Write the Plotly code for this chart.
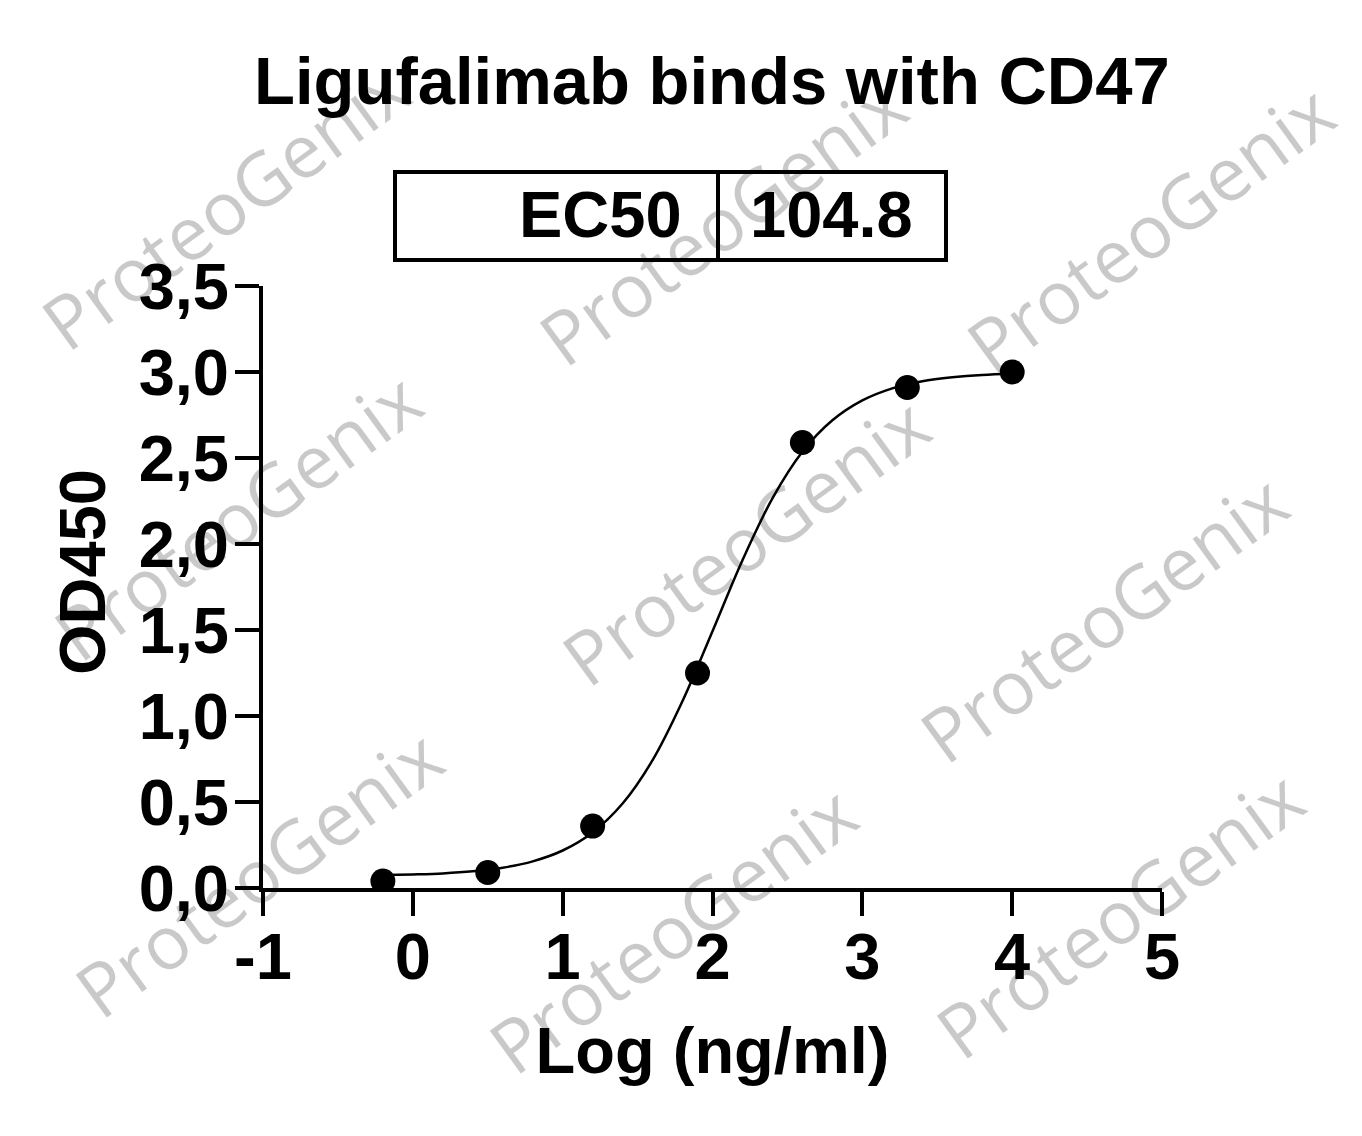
import plotly.graph_objects as go

# ---- data ----
log_conc = [-0.2, 0.5, 1.2, 1.9, 2.6, 3.3, 4.0]
od450 = [0.04, 0.09, 0.36, 1.25, 2.59, 2.91, 3.00]

fit_x = [-0.2, 0.0, 0.2, 0.4, 0.6, 0.8, 1.0, 1.2, 1.4, 1.6, 1.8, 2.0,
         2.2, 2.4, 2.6, 2.8, 3.0, 3.2, 3.4, 3.6, 3.8, 4.0]
fit_y = [0.075, 0.079, 0.085, 0.097, 0.118, 0.155, 0.218, 0.323, 0.491, 0.743, 1.087, 1.493,
         1.906, 2.265, 2.536, 2.719, 2.835, 2.905, 2.946, 2.969, 2.983, 2.99]

x_tick_vals = [-1, 0, 1, 2, 3, 4, 5]
x_tick_text = ["-1", "0", "1", "2", "3", "4", "5"]
y_tick_vals = [0, 0.5, 1.0, 1.5, 2.0, 2.5, 3.0, 3.5]
y_tick_text = ["0,0", "0,5", "1,0", "1,5", "2,0", "2,5", "3,0", "3,5"]

title_text = "Ligufalimab binds with CD47"
ec50_label = "EC50"
ec50_value = "104.8"
x_title = "Log (ng/ml)"
y_title = "OD450"
watermark = "ProteoGenix"

# ---- layout geometry (screen pixels; page body has an 8px margin) ----
OFF = 8
W, H = 1354, 1120
L, T = 255, 278
PW, PH = 899, 602
R, B = W - L - PW, H - T - PH


def px(x):
    # screen x -> paper
    return (x - OFF - L) / PW


def py(y):
    # screen y -> paper
    return (OFF + T + PH - y) / PH


FONT = "Liberation Sans, Arial, Helvetica, sans-serif"
FS = 65
BOLD = dict(family=FONT, size=FS, color="black", weight="bold")

fig = go.Figure()
fig.add_trace(go.Scatter(x=fit_x, y=fit_y, mode="lines",
                         line=dict(color="black", width=2.5, shape="spline", smoothing=1.0),
                         hoverinfo="skip", showlegend=False))
fig.add_trace(go.Scatter(x=log_conc, y=od450, mode="markers",
                         marker=dict(color="black", size=25, line=dict(width=0)),
                         showlegend=False))

annotations = []
# watermarks (drawn first so that later text sits on top)
wm_centers = [(225, 205), (722, 220), (1150, 228),
              (237, 515), (745, 540), (1103, 617),
              (258, 872), (672, 928), (1119, 913)]
for cx, cy in wm_centers:
    annotations.append(dict(text=watermark, x=px(cx), y=py(cy), xref="paper", yref="paper",
                            xanchor="center", yanchor="middle", showarrow=False, textangle=-36,
                            font=dict(family="Open Sans, DejaVu Sans, sans-serif", size=74,
                                      color="rgba(0,0,0,0.21)", weight="normal")))

# title
annotations.append(dict(text=title_text, x=px(712), y=py(80), xref="paper", yref="paper",
                        xanchor="center", yanchor="middle", showarrow=False,
                        font=dict(BOLD, size=67)))
# EC50 table text
annotations.append(dict(text=ec50_label, x=px(684), y=py(214), xref="paper", yref="paper",
                        xanchor="right", yanchor="middle", showarrow=False, font=BOLD))
annotations.append(dict(text=ec50_value, x=px(748), y=py(214), xref="paper", yref="paper",
                        xanchor="left", yanchor="middle", showarrow=False, font=BOLD))
# y axis title
annotations.append(dict(text=y_title, x=px(82), y=py(572), xref="paper", yref="paper",
                        xanchor="center", yanchor="middle", showarrow=False, textangle=-90,
                        font=BOLD))

shapes = [
    dict(type="rect", xref="paper", yref="paper", x0=px(395), x1=px(946), y0=py(260), y1=py(172),
         line=dict(color="black", width=4), fillcolor="rgba(0,0,0,0)"),
    dict(type="line", xref="paper", yref="paper", x0=px(718), x1=px(718), y0=py(260), y1=py(172),
         line=dict(color="black", width=4)),
]

fig.update_layout(
    width=W, height=H,
    margin=dict(l=L, r=R, t=T, b=B, pad=0),
    paper_bgcolor="white", plot_bgcolor="white",
    annotations=annotations, shapes=shapes,
    font=BOLD,
)

fig.update_xaxes(range=[-1, 5], tickvals=x_tick_vals, ticktext=x_tick_text,
                 showline=True, linecolor="black", linewidth=4,
                 ticks="outside", ticklen=24, tickwidth=4, tickcolor="black",
                 showgrid=False, zeroline=False, ticklabelstandoff=-15,
                 tickfont=BOLD,
                 title=dict(text=x_title, standoff=36, font=BOLD))
fig.update_yaxes(range=[0, 3.5], tickvals=y_tick_vals, ticktext=y_tick_text,
                 showline=True, linecolor="black", linewidth=4,
                 ticks="outside", ticklen=24, tickwidth=4, tickcolor="black",
                 showgrid=False, zeroline=False, ticklabelstandoff=-7,
                 tickfont=BOLD)

fig.write_html("out.html")
